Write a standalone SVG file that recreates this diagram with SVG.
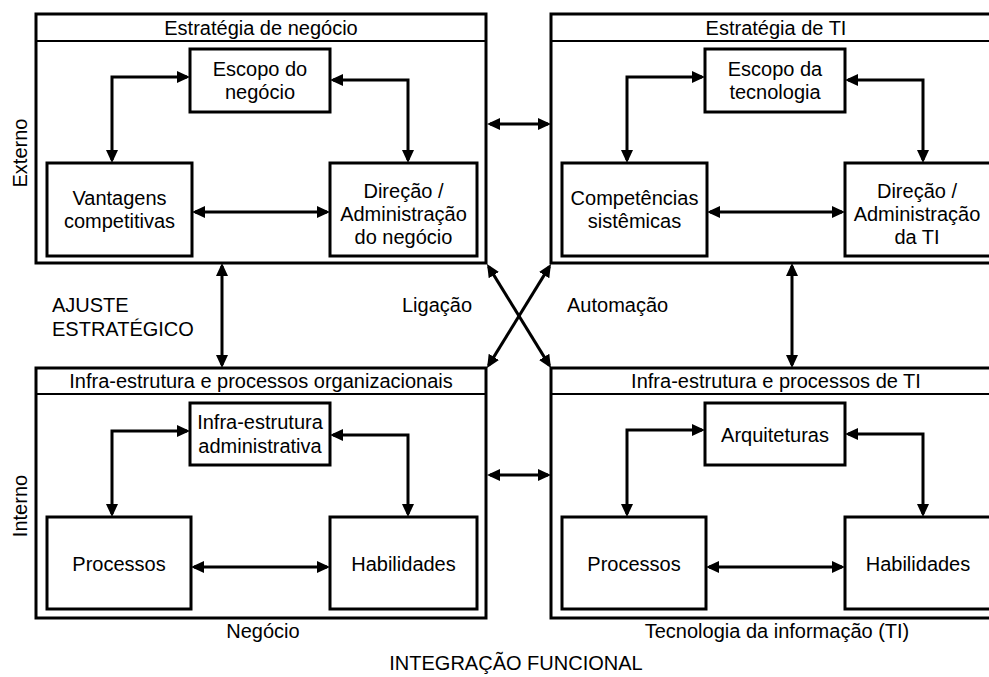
<svg xmlns="http://www.w3.org/2000/svg" width="989" height="677" viewBox="0 0 989 677">
<style>
text{font-family:"Liberation Sans",Arial,sans-serif;font-size:20px;fill:#000;}
.c{text-anchor:middle;}
.panel{fill:none;stroke:#000;stroke-width:3;}
.bar{stroke:#000;stroke-width:2;}
.box{fill:#fff;stroke:#000;stroke-width:3;}
.con{fill:none;stroke:#000;stroke-width:3;marker-start:url(#ah);marker-end:url(#ah);}
</style>
<defs>
<marker id="ah" markerUnits="userSpaceOnUse" markerWidth="14" markerHeight="12" refX="10" refY="6" orient="auto-start-reverse">
<path d="M0,0 L13,6 L0,12 Z" fill="#000"/>
</marker>
</defs>
<rect width="989" height="677" fill="#fff"/>

<g id="panel-estrategia-negocio">
<rect class="panel" x="36" y="14" width="450" height="249"/>
<line class="bar" x1="36" y1="41" x2="486" y2="41"/>
<text class="c" x="261" y="35">Estratégia de negócio</text>
</g>
<g id="panel-estrategia-ti">
<rect class="panel" x="551" y="14" width="450" height="249"/>
<line class="bar" x1="551" y1="41" x2="1001" y2="41"/>
<text class="c" x="776" y="35">Estratégia de TI</text>
</g>
<g id="panel-infra-org">
<rect class="panel" x="36" y="368" width="450" height="250"/>
<line class="bar" x1="36" y1="394" x2="486" y2="394"/>
<text class="c" x="261" y="388">Infra-estrutura e processos organizacionais</text>
</g>
<g id="panel-infra-ti">
<rect class="panel" x="551" y="368" width="450" height="250"/>
<line class="bar" x1="551" y1="394" x2="1001" y2="394"/>
<text class="c" x="776" y="388">Infra-estrutura e processos de TI</text>
</g>

<g id="escopo-negocio">
<rect class="box" x="190" y="49" width="140" height="63"/>
<text class="c" x="260" y="76">Escopo do</text>
<text class="c" x="260" y="99">negócio</text>
</g>
<g id="vantagens">
<rect class="box" x="47" y="163" width="145" height="93"/>
<text class="c" x="119.5" y="205">Vantagens</text>
<text class="c" x="119.5" y="228">competitivas</text>
</g>
<g id="direcao-negocio">
<rect class="box" x="330" y="163" width="147" height="93"/>
<text class="c" x="403.5" y="198">Direção /</text>
<text class="c" x="403.5" y="221">Administração</text>
<text class="c" x="403.5" y="244">do negócio</text>
</g>

<g id="escopo-tecnologia">
<rect class="box" x="705" y="49" width="140" height="63"/>
<text class="c" x="775" y="76">Escopo da</text>
<text class="c" x="775" y="99">tecnologia</text>
</g>
<g id="competencias">
<rect class="box" x="562" y="163" width="145" height="93"/>
<text class="c" x="634.5" y="205">Competências</text>
<text class="c" x="634.5" y="228">sistêmicas</text>
</g>
<g id="direcao-ti">
<rect class="box" x="845" y="163" width="147" height="93"/>
<text class="c" x="917" y="198">Direção /</text>
<text class="c" x="917" y="221">Administração</text>
<text class="c" x="917" y="244">da TI</text>
</g>

<g id="infra-administrativa">
<rect class="box" x="190" y="403" width="140" height="62"/>
<text class="c" x="260" y="429">Infra-estrutura</text>
<text class="c" x="260" y="453">administrativa</text>
</g>
<g id="processos-negocio">
<rect class="box" x="47" y="517" width="144" height="92"/>
<text class="c" x="119" y="571">Processos</text>
</g>
<g id="habilidades-negocio">
<rect class="box" x="330" y="517" width="147" height="92"/>
<text class="c" x="403.5" y="571">Habilidades</text>
</g>

<g id="arquiteturas">
<rect class="box" x="705" y="403" width="140" height="62"/>
<text class="c" x="775" y="442">Arquiteturas</text>
</g>
<g id="processos-ti">
<rect class="box" x="562" y="517" width="144" height="92"/>
<text class="c" x="634" y="571">Processos</text>
</g>
<g id="habilidades-ti">
<rect class="box" x="845" y="517" width="147" height="92"/>
<text class="c" x="918" y="571">Habilidades</text>
</g>

<g id="connectors">
<path class="con" d="M187 77 H112 V160"/>
<path class="con" d="M333 80 H408 V160"/>
<path class="con" d="M195 212 H327"/>
<path class="con" d="M702 77 H627 V160"/>
<path class="con" d="M848 80 H923 V160"/>
<path class="con" d="M710 212 H842"/>
<path class="con" d="M187 431 H112 V514"/>
<path class="con" d="M333 435 H408 V514"/>
<path class="con" d="M194 567 H327"/>
<path class="con" d="M702 430 H627 V514"/>
<path class="con" d="M848 434 H923 V514"/>
<path class="con" d="M709 567 H842"/>
<path class="con" d="M490 124 H548"/>
<path class="con" d="M490 475 H548"/>
<path class="con" d="M222 266 V365"/>
<path class="con" d="M792 266 V365"/>
<path class="con" d="M488.6 266.6 L549.4 365.4"/>
<path class="con" d="M549.4 266.6 L488.6 365.4"/>
</g>

<g id="labels">
<text x="27" y="153" class="c" transform="rotate(-90 27 153)">Externo</text>
<text x="27" y="506" class="c" transform="rotate(-90 27 506)">Interno</text>
<text x="52" y="312">AJUSTE</text>
<text x="52" y="336">ESTRATÉGICO</text>
<text x="402" y="312">Ligação</text>
<text x="567" y="312">Automação</text>
<text class="c" x="263" y="638">Negócio</text>
<text class="c" x="777" y="638">Tecnologia da informação (TI)</text>
<text class="c" x="516" y="670">INTEGRAÇÃO FUNCIONAL</text>
</g>
</svg>
